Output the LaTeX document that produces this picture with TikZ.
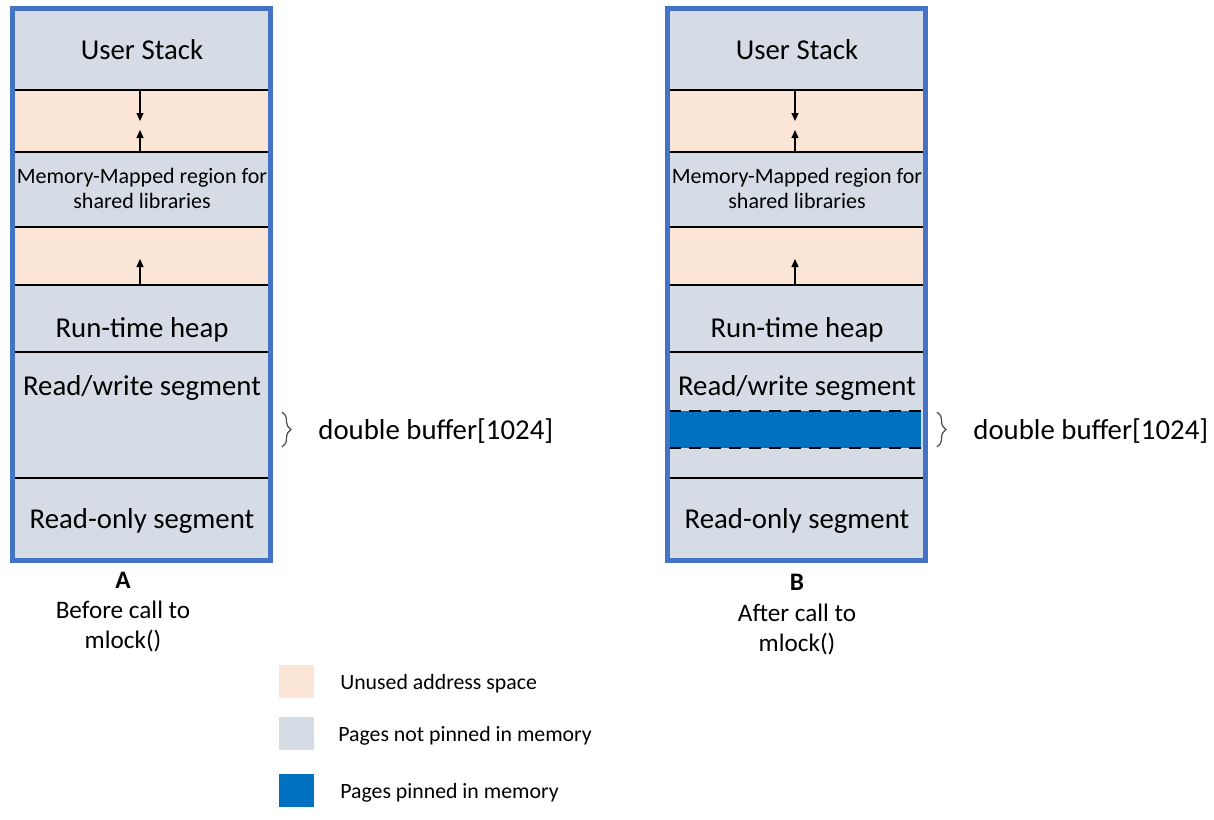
\documentclass[tikz,border=0pt]{standalone}
\usepackage{fontspec}
\setmainfont{Carlito}
\definecolor{MemBorder}{HTML}{4472C4}
\definecolor{MemUnused}{HTML}{FBE5D6}
\definecolor{MemPage}{HTML}{D6DCE5}
\definecolor{MemPinned}{HTML}{0070C0}
\usetikzlibrary{arrows.meta, decorations.pathreplacing, positioning}

\begin{document}
\begin{tikzpicture}[x=0.5pt, y=-0.5pt,
  seglabel/.style={font=\fontsize{14.4}{17}\selectfont},
  maplabel/.style={font=\fontsize{11}{12.5}\selectfont, align=center},
  caption/.style={font=\fontsize{12.6}{15}\selectfont, align=center},
  divider/.style={black, line width=1pt},
  growarrow/.style={-{Triangle[length=4pt, width=3.5pt]}, black, line width=0.6pt},
  keybox/.style={minimum width=17.5pt, minimum height=16.5pt, inner sep=0pt},
  keytext/.style={font=\fontsize{10.9}{13}\selectfont, anchor=west, inner sep=0pt, yshift=-1.5pt}
]
  % page size of the reference
  \useasboundingbox (0,0) rectangle (1214,819);

  % Both address-space columns
  \foreach \col/\xo in {A/0, B/655} {
    \begin{scope}[shift={(\xo,0)}]
      % segments
      \fill[MemPage] (12,8) rectangle (270,560);
      \fill[MemUnused] (12,90) rectangle (270,152);
      \fill[MemUnused] (12,227) rectangle (270,285);
      \draw[divider] (14,90) -- (268,90);
      \draw[divider] (14,152) -- (268,152);
      \draw[divider] (14,227) -- (268,227);
      \draw[divider] (14,285) -- (268,285);
      \draw[divider] (14,352) -- (268,352);
      \draw[divider] (14,478) -- (268,478);
      % growth of stack, mapped region and heap
      \coordinate (\col-stacktop) at (140,90);
      \coordinate (\col-stackend) at (140,121);
      \coordinate (\col-mapbase) at (140,152);
      \coordinate (\col-mapend) at (140,130);
      \coordinate (\col-heapbase) at (140,285);
      \coordinate (\col-heapend) at (140,259);
      \draw[growarrow] (\col-stacktop) -- (\col-stackend);
      \draw[growarrow] (\col-mapbase) -- (\col-mapend);
      \draw[growarrow] (\col-heapbase) -- (\col-heapend);
      % labels
      \node[seglabel] (\col-stack) at (142,50) {User Stack};
      \node[maplabel] (\col-mmap) at (142,188) {Memory-Mapped region for\\shared libraries};
      \node[seglabel] (\col-heap) at (142,330) {Run-time heap};
      \node[seglabel] (\col-rw) at (142,388) {Read/write segment};
      \node[seglabel] (\col-ro) at (142,521) {Read-only segment};
      % buffer brace
      \coordinate (\col-bracetop) at (282,412);
      \coordinate (\col-bracebot) at (282,447);
      \draw[black!70, line width=0.6pt, decoration={brace, amplitude=4.5pt}, decorate]
        (\col-bracetop) -- (\col-bracebot);
      \node[seglabel, anchor=west, inner sep=0pt] (\col-buffer) at (318,431) {double buffer[1024]};
    \end{scope}
  }

  % pinned buffer after mlock()
  \fill[MemPinned] (669,411) rectangle (921,448);
  \draw[black, line width=1.1pt, dash pattern=on 6pt off 4pt] (669,411) -- (921,411);
  \draw[black, line width=1.1pt, dash pattern=on 6pt off 4pt] (669,448) -- (921,448);

  % outer frames
  \draw[MemBorder, line width=2.5pt] (12,8) rectangle (270,560);
  \draw[MemBorder, line width=2.5pt] (667,8) rectangle (925,560);

  % captions
  \node[caption] (A-name) at (123,580) {\textbf{A}};
  \node[caption] (A-caption) at (123,626) {Before call to\\mlock()};
  \node[caption] (B-name) at (797,582) {\textbf{B}};
  \node[caption] (B-caption) at (797,629) {After call to\\mlock()};

  % legend
  \node[keybox, fill=MemUnused] (key-unused) at (296,681) {};
  \node[keybox, fill=MemPage] (key-page) at (296,733) {};
  \node[keybox, fill=MemPinned] (key-pinned) at (296,790) {};
  \node[keytext, right=13pt of key-unused] (key-unused-text) {Unused address space};
  \node[keytext, right=12pt of key-page] (key-page-text) {Pages not pinned in memory};
  \node[keytext, right=13pt of key-pinned] (key-pinned-text) {Pages pinned in memory};
\end{tikzpicture}
\end{document}
